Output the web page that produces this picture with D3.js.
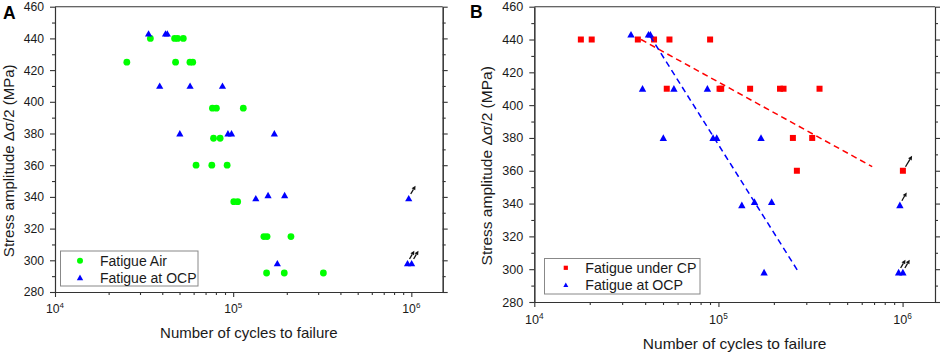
<!DOCTYPE html>
<html><head><meta charset="utf-8">
<script src="https://cdn.jsdelivr.net/npm/d3@7/dist/d3.min.js"></script>
<style>
body{margin:0;background:#fff}
svg{display:block;font-family:"Liberation Sans",Arial,Helvetica,sans-serif}
</style>
</head><body>
<svg id="chart" width="941" height="355"></svg>
<script>
// ---------- DATA ----------
const airCycles = [34300, 46900, 48800, 52500, 25300, 47500, 57200, 59300, 76500, 80500, 114000, 77600, 84500, 61900, 75900, 92500, 100800, 106000, 148700, 155000, 211000, 154000, 193600, 320900];
const airStress = [440, 440, 440, 440, 425, 425, 425, 425, 396, 396, 396, 377, 377, 360, 360, 360, 337, 337, 315, 315, 315, 292, 292, 292];

const ocpCycles = [33500, 41700, 42700, 38700, 57300, 87100, 50200, 93500, 97900, 170300, 134000, 157000, 194500, 967000, 177000, 952000, 1004000];
const ocpStress = [443, 443, 443, 410, 410, 410, 380, 380, 380, 380, 339, 341, 341, 339, 298, 298, 298];
const ocpRunout = [0, 0, 0, 0, 0, 0, 0, 0, 0, 0, 0, 0, 0, 1, 0, 1, 1];

const cpCycles = [17900, 20500, 36500, 44700, 54200, 90100, 52400, 101400, 103500, 148600, 216000, 225700, 354000, 253700, 323000, 266700, 1004000];
const cpStress = [440, 440, 440, 440, 440, 440, 410, 410, 410, 410, 410, 410, 410, 380, 380, 360, 360];
const cpRunout = [0, 0, 0, 0, 0, 0, 0, 0, 0, 0, 0, 0, 0, 0, 0, 0, 1];

const cpFitCycles = [38000, 684000];
const cpFitStress = [440, 362.5];
const ocpFitCycles = [42600, 268000];
const ocpFitStress = [442, 299.5];

const yTicks = [280, 300, 320, 340, 360, 380, 400, 420, 440, 460];
const yMinorTicks = [290, 310, 330, 350, 370, 390, 410, 430, 450];
const xTicks = [1e4, 1e5, 1e6];
const xTickExponents = ["4", "5", "6"];
const xDomain = [1e4, 1.5e6];
const yDomain = [280, 460];

const panelLabels = ["A", "B"];
const legendA = ["Fatigue Air", "Fatigue at OCP"];
const legendB = ["Fatigue under CP", "Fatigue at OCP"];
const xTitle = "Number of cycles to failure";
const yTitle = "Stress amplitude \u0394\u03c3/2 (MPa)";

// ---------- STYLE ----------
const GREEN = "#00ff00", BLUE = "#0000ff", RED = "#ff0000";
const AXIS = "#333", TXT = "#1a1a1a";

const svg = d3.select("#chart");

function triPath(w, h) {
  return `M0,${-h*0.55}L${w/2},${h*0.45}L${-w/2},${h*0.45}Z`;
}

function drawPanel(cfg) {
  const g = svg.append("g");
  const x = d3.scaleLog().domain(xDomain).range([cfg.x0, cfg.x1]);
  const y = d3.scaleLinear().domain(yDomain).range([cfg.y1, cfg.y0]);
  const s = cfg.s;

  // minor x ticks
  const xMinor = [];
  [1e4, 1e5, 1e6].forEach(d => { for (let k = 2; k <= 9; k++) { const v = d * k; if (v <= xDomain[1]) xMinor.push(v); } });

  const styleAxis = sel => { sel.selectAll("path,line").attr("stroke", AXIS).attr("stroke-width", 1.1); };

  // left
  g.append("g").attr("transform", `translate(${cfg.x0},0)`)
    .call(d3.axisLeft(y).tickValues(yMinorTicks).tickSize(3).tickFormat("").tickSizeOuter(0)).call(styleAxis);
  const la = g.append("g").attr("transform", `translate(${cfg.x0},0)`)
    .call(d3.axisLeft(y).tickValues(yTicks).tickSize(5).tickPadding(6).tickSizeOuter(0)).call(styleAxis);
  la.selectAll("text").attr("font-size", 12.2 * s).attr("fill", TXT).attr("font-family", null);
  // right
  g.append("g").attr("transform", `translate(${cfg.x1},0)`)
    .call(d3.axisRight(y).tickValues(yMinorTicks).tickSize(3).tickFormat("").tickSizeOuter(0)).call(styleAxis);
  g.append("g").attr("transform", `translate(${cfg.x1},0)`)
    .call(d3.axisRight(y).tickValues(yTicks).tickSize(5).tickFormat("").tickSizeOuter(0)).call(styleAxis);
  // bottom
  g.append("g").attr("transform", `translate(0,${cfg.y1})`)
    .call(d3.axisBottom(x).tickValues(xMinor).tickSize(3).tickFormat("").tickSizeOuter(0)).call(styleAxis);
  g.append("g").attr("transform", `translate(0,${cfg.y1})`)
    .call(d3.axisBottom(x).tickValues(xTicks).tickSize(5).tickFormat("").tickSizeOuter(0)).call(styleAxis);
  // top border
  g.append("line").attr("x1", cfg.x0).attr("x2", cfg.x1).attr("y1", cfg.y0).attr("y2", cfg.y0)
    .attr("stroke", AXIS).attr("stroke-width", 1.1);

  // x tick labels with superscripts
  xTicks.forEach((v, i) => {
    const t = g.append("text").attr("x", x(v)).attr("y", cfg.y1 + cfg.xLabDy)
      .attr("text-anchor", "middle").attr("fill", TXT).attr("font-size", 12.2 * s);
    t.append("tspan").text("10");
    t.append("tspan").attr("font-size", 8 * s).attr("dy", -5 * s).text(xTickExponents[i]);
  });

  // titles
  g.append("text").attr("x", (cfg.x0 + cfg.x1) / 2).attr("y", cfg.xTitleY)
    .attr("text-anchor", "middle").attr("font-size", 15 * s).attr("fill", TXT).text(xTitle);
  g.append("text").attr("transform", `translate(${cfg.yTitleX},${cfg.yTitleCY}) rotate(-90)`)
    .attr("text-anchor", "middle").attr("font-size", 15 * s).attr("fill", TXT).text(yTitle);
  g.append("text").attr("x", cfg.labX).attr("y", cfg.labY).attr("font-size", 17.5)
    .attr("font-weight", "bold").attr("fill", "#000").text(cfg.label);

  return { g, x, y };
}

function drawArrow(g, px, py, d0, d1) {
  const x0 = px + d0[0], y0 = py + d0[1], x1 = px + d1[0], y1 = py + d1[1];
  const dx = x1 - x0, dy = y1 - y0, L = Math.hypot(dx, dy), ux = dx / L, uy = dy / L;
  const hl = 4.2, hw = 2.1;
  const bx = x1 - ux * hl, by = y1 - uy * hl;
  g.append("line").attr("x1", x0).attr("y1", y0).attr("x2", bx).attr("y2", by)
    .attr("stroke", "#111").attr("stroke-width", 1.3);
  g.append("path").attr("d", `M${x1},${y1}L${bx - uy * hw},${by + ux * hw}L${bx + uy * hw},${by - ux * hw}Z`)
    .attr("fill", "#111");
}

function drawOCP(p, triW, triH) {
  p.g.append("g").selectAll("path").data(ocpCycles).join("path")
    .attr("transform", (d, i) => `translate(${p.x(d)},${p.y(ocpStress[i])})`)
    .attr("d", triPath(triW, triH)).attr("fill", BLUE);
  ocpCycles.forEach((d, i) => {
    if (ocpRunout[i]) drawArrow(p.g, p.x(d), p.y(ocpStress[i]), [2, -4.5], [6.8, -12.8]);
  });
}

// ---------- PANEL A ----------
const A = drawPanel({ x0: 55, x1: 442.7, y0: 6.7, y1: 292, s: 1, label: panelLabels[0], labX: 3, labY: 18.5,
  xLabDy: 21.3, xTitleY: 337.5, yTitleX: 13.5, yTitleCY: 160.8 });

A.g.append("g").selectAll("circle").data(airCycles).join("circle")
  .attr("cx", d => A.x(d)).attr("cy", (d, i) => A.y(airStress[i])).attr("r", 3.4).attr("fill", GREEN);
drawOCP(A, 7.2, 6.4);

// legend A
A.g.append("rect").attr("x", 60.5).attr("y", 251).attr("width", 137.5).attr("height", 35)
  .attr("fill", "#fff").attr("stroke", "#888").attr("stroke-width", 1);
A.g.append("circle").attr("cx", 80).attr("cy", 260.7).attr("r", 3).attr("fill", GREEN);
A.g.append("path").attr("transform", "translate(80,277.7)").attr("d", triPath(6.4, 5.6)).attr("fill", BLUE);
legendA.forEach((t, i) => {
  A.g.append("text").attr("x", 100).attr("y", 265.6 + i * 17).attr("font-size", 14).attr("fill", TXT).text(t);
});

// ---------- PANEL B ----------
const B = drawPanel({ x0: 534.3, x1: 935, y0: 6.7, y1: 302, s: 1.035, label: panelLabels[1], labX: 470, labY: 17.5,
  xLabDy: 22.3, xTitleY: 349, yTitleX: 492, yTitleCY: 165.8 });

B.g.append("g").selectAll("rect").data(cpCycles).join("rect")
  .attr("x", d => B.x(d) - 3).attr("y", (d, i) => B.y(cpStress[i]) - 3)
  .attr("width", 6).attr("height", 6).attr("fill", RED);
cpCycles.forEach((d, i) => {
  if (cpRunout[i]) drawArrow(B.g, B.x(d), B.y(cpStress[i]), [2.6, -4], [9.2, -15]);
});
drawOCP(B, 7.4, 6.6);

const line = d3.line().x(d => B.x(d[0])).y(d => B.y(d[1]));
B.g.append("path").attr("d", line(cpFitCycles.map((c, i) => [c, cpFitStress[i]])))
  .attr("fill", "none").attr("stroke", RED).attr("stroke-width", 1.5).attr("stroke-dasharray", "6,4");
B.g.append("path").attr("d", line(ocpFitCycles.map((c, i) => [c, ocpFitStress[i]])))
  .attr("fill", "none").attr("stroke", BLUE).attr("stroke-width", 1.5).attr("stroke-dasharray", "6,4");

// legend B
B.g.append("rect").attr("x", 544.5).attr("y", 258.5).attr("width", 155.5).attr("height", 35.5)
  .attr("fill", "#fff").attr("stroke", "#888").attr("stroke-width", 1);
B.g.append("rect").attr("x", 563.7).attr("y", 265.7).attr("width", 4.2).attr("height", 4.2).attr("fill", RED);
B.g.append("path").attr("transform", "translate(565.8,285)").attr("d", triPath(5, 4.4)).attr("fill", BLUE);
legendB.forEach((t, i) => {
  B.g.append("text").attr("x", 585.3).attr("y", 272.6 + i * 17.3).attr("font-size", 14.2).attr("fill", TXT).text(t);
});
</script>
</body></html>
